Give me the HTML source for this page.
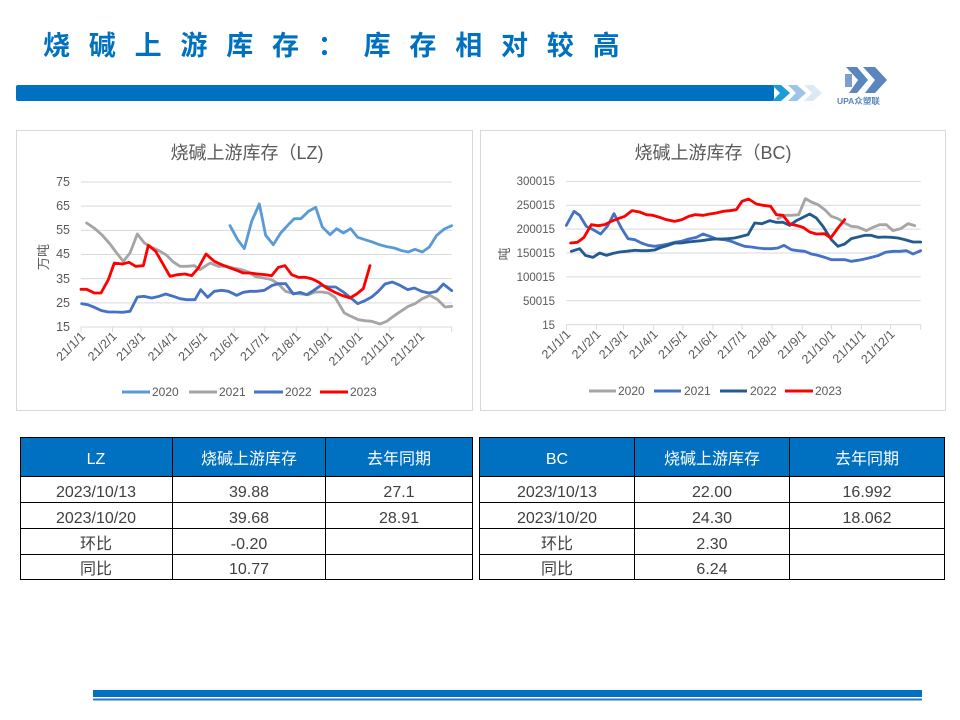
<!DOCTYPE html>
<html><head><meta charset="utf-8"><style>
html,body{margin:0;padding:0;background:#fff;}
svg{display:block;}
text{font-family:"Liberation Sans","Noto Sans CJK SC",sans-serif;}
</style></head><body>
<svg width="960" height="720" viewBox="0 0 960 720" xmlns="http://www.w3.org/2000/svg">
<rect width="960" height="720" fill="#fff"/>
<!-- Header -->
<text x="43" y="55" font-size="27" font-weight="bold" fill="#0070c0" letter-spacing="18.8">烧碱上游库存：库存相对较高</text>
<rect x="16" y="85" width="758" height="16" rx="2" fill="#0070c0"/>
<polygon points="772,85 781,85 790,93 781,101 772,101 780,93" fill="#1b9bd7"/>
<polygon points="788,85 797,85 806,93 797,101 788,101 796,93" fill="#9dc3e6"/>
<polygon points="804,85 813,85 822,93 813,101 804,101 812,93" fill="#dce9f5"/>
<!-- logo -->
<g fill="#5a86bd">
<polygon points="846,67 857,67 868,80 857,93 849,93 858,80"/>
<polygon points="863,67 875,67 887,80 875,93 865,93 875,80"/>
<polygon points="845,74 852,74 852,87 845,87" opacity="0.8"/>
</g>
<text x="837" y="104" font-size="8.5" font-weight="bold" fill="#5a86bd">UPA众塑联</text>

<!-- Chart 1 -->
<rect x="16.5" y="130.5" width="456" height="280" fill="#fff" stroke="#d9d9d9"/>
<text x="247" y="159" font-size="18" fill="#595959" text-anchor="middle">烧碱上游库存（LZ)</text>
<g transform="translate(15,128) scale(0.333333)" fill="none">
<g stroke="#d9d9d9" stroke-width="3">
<line x1="198" y1="162" x2="1310" y2="162"/>
<line x1="198" y1="234.5" x2="1310" y2="234.5"/>
<line x1="198" y1="307" x2="1310" y2="307"/>
<line x1="198" y1="379.5" x2="1310" y2="379.5"/>
<line x1="198" y1="452" x2="1310" y2="452"/>
<line x1="198" y1="524.5" x2="1310" y2="524.5"/>
<line x1="198" y1="597" x2="1310" y2="597"/>
<path d="M198,597v15M292.5,597v15M377.8,597v15M472.2,597v15M563.6,597v15M658,597v15M749.5,597v15M844,597v15M938.4,597v15M1029.8,597v15M1124.3,597v15M1215.7,597v15M1310,597v15"/>
</g>
<g stroke-width="8.5" stroke-linejoin="round" stroke-linecap="round">
<polyline stroke="#5b9bd5" points="645,293 668,335 688,362 710,280 733,228 752,322 775,350 797,315 820,290 838,272 858,272 880,250 902,238 922,297 945,320 965,302 985,315 1007,302 1028,328 1050,335 1072,342 1093,350 1115,356 1138,360 1160,368 1180,372 1200,364 1222,372 1243,357 1265,322 1288,303 1310,293"/>
<polyline stroke="#a5a5a5" points="215,285 240,302 262,322 285,348 305,375 325,400 345,375 367,318 388,345 410,358 432,368 455,382 475,402 495,415 515,415 538,413 555,425 585,405 610,415 635,415 655,420 680,425 700,432 720,445 745,450 770,455 790,468 812,490 830,495 850,497 880,500 900,492 920,492 940,495 960,508 988,555 1008,565 1030,575 1050,578 1070,580 1095,588 1115,580 1135,565 1160,548 1180,535 1200,527 1222,512 1245,502 1268,515 1290,537 1310,535"/>
<polyline stroke="#4472c4" points="200,527 218,530 238,538 260,548 280,552 300,552 322,553 345,550 367,507 388,505 410,510 432,505 452,498 475,505 495,512 515,515 540,515 557,485 578,508 598,490 620,487 640,490 665,502 685,493 705,490 725,490 748,487 770,473 790,467 812,467 835,498 855,493 875,500 895,488 918,472 942,477 962,477 985,492 1010,512 1028,527 1050,518 1070,507 1090,490 1110,468 1132,462 1155,472 1178,485 1198,480 1220,490 1242,495 1265,490 1285,468 1310,488"/>
<polyline stroke="#ff0000" points="198,484 215,484 238,495 258,495 280,455 298,405 322,408 342,403 362,415 385,413 400,352 422,370 445,410 465,445 488,440 510,438 530,443 550,420 573,378 598,400 620,410 640,418 665,427 685,435 705,435 728,438 750,440 770,443 790,418 810,413 830,440 850,448 872,448 892,453 912,463 935,480 958,492 980,502 1005,510 1025,498 1045,482 1065,413"/>
</g>
</g>
<g font-size="12.5" fill="#595959" text-anchor="end">
<text x="70" y="186">75</text>
<text x="70" y="210">65</text>
<text x="70" y="234">55</text>
<text x="70" y="258">45</text>
<text x="70" y="283">35</text>
<text x="70" y="307">25</text>
<text x="70" y="331">15</text>
</g>
<text transform="translate(48,257) rotate(-90)" font-size="13" fill="#595959" text-anchor="middle">万吨</text>
<g font-size="12.5" fill="#595959" text-anchor="end">
<text transform="translate(86,337) rotate(-45)">21/1/1</text>
<text transform="translate(117.5,337) rotate(-45)">21/2/1</text>
<text transform="translate(146,337) rotate(-45)">21/3/1</text>
<text transform="translate(177.4,337) rotate(-45)">21/4/1</text>
<text transform="translate(208,337) rotate(-45)">21/5/1</text>
<text transform="translate(239.3,337) rotate(-45)">21/6/1</text>
<text transform="translate(269.8,337) rotate(-45)">21/7/1</text>
<text transform="translate(301.3,337) rotate(-45)">21/8/1</text>
<text transform="translate(332.8,337) rotate(-45)">21/9/1</text>
<text transform="translate(363.3,337) rotate(-45)">21/10/1</text>
<text transform="translate(394.8,337) rotate(-45)">21/11/1</text>
<text transform="translate(425.2,337) rotate(-45)">21/12/1</text>
</g>
<g stroke-width="3">
<line x1="122" y1="392" x2="150" y2="392" stroke="#5b9bd5"/>
<line x1="189" y1="392" x2="217" y2="392" stroke="#a5a5a5"/>
<line x1="254" y1="392" x2="283" y2="392" stroke="#4472c4"/>
<line x1="320" y1="392" x2="348" y2="392" stroke="#ff0000"/>
</g>
<g font-size="12" fill="#595959">
<text x="152" y="396">2020</text>
<text x="219" y="396">2021</text>
<text x="285" y="396">2022</text>
<text x="350" y="396">2023</text>
</g>

<!-- Chart 2 -->
<rect x="480.5" y="130.5" width="465" height="280" fill="#fff" stroke="#d9d9d9"/>
<text x="713" y="159" font-size="18" fill="#595959" text-anchor="middle">烧碱上游库存（BC)</text>
<g transform="translate(478,128) scale(0.333333)" fill="none">
<g stroke="#d9d9d9" stroke-width="3">
<line x1="265" y1="160" x2="1328" y2="160"/>
<line x1="265" y1="231.7" x2="1328" y2="231.7"/>
<line x1="265" y1="303.3" x2="1328" y2="303.3"/>
<line x1="265" y1="375" x2="1328" y2="375"/>
<line x1="265" y1="446.7" x2="1328" y2="446.7"/>
<line x1="265" y1="518.3" x2="1328" y2="518.3"/>
<line x1="265" y1="590" x2="1328" y2="590"/>
<path d="M265,590v15M355.3,590v15M436.8,590v15M527.1,590v15M614.5,590v15M704.7,590v15M792.1,590v15M882.4,590v15M972.7,590v15M1060,590v15M1150.3,590v15M1237.7,590v15M1328,590v15"/>
</g>
<g stroke-width="8.5" stroke-linejoin="round" stroke-linecap="round">
<polyline stroke="#a5a5a5" points="900,272 920,262 940,262 962,260 982,212 1000,222 1020,230 1040,245 1060,265 1080,272 1100,285 1120,295 1140,297 1165,308 1185,298 1205,290 1225,290 1245,308 1268,302 1290,287 1310,293"/>
<polyline stroke="#4472c4" points="265,292 288,250 305,262 325,295 345,305 368,318 388,295 408,257 430,300 450,332 470,335 490,345 510,352 530,355 550,352 570,348 590,343 610,340 632,333 655,328 675,318 695,325 715,333 740,335 760,340 780,348 800,355 820,357 840,360 860,362 880,362 900,360 918,352 940,365 960,368 980,370 1000,378 1020,382 1040,388 1060,395 1080,395 1100,395 1120,400 1140,397 1160,393 1180,388 1200,383 1222,373 1245,370 1265,370 1285,368 1305,378 1328,368"/>
<polyline stroke="#245a8e" points="280,370 305,362 322,382 345,388 365,375 385,382 405,376 425,372 445,370 470,367 490,368 510,368 530,366 550,358 570,352 590,345 610,345 630,342 650,340 670,338 690,335 710,333 730,333 750,332 770,330 790,325 810,320 830,285 852,287 875,278 895,283 915,283 935,292 955,278 975,268 995,258 1015,270 1035,295 1060,335 1080,355 1100,348 1120,332 1140,327 1160,322 1180,322 1200,328 1220,327 1240,328 1260,330 1280,335 1305,342 1328,342"/>
<polyline stroke="#ff0000" points="278,345 298,343 318,328 340,290 360,293 380,290 400,280 420,272 440,265 462,248 485,252 505,260 525,262 545,268 565,275 590,280 612,275 632,265 652,260 675,262 695,258 715,255 735,250 755,248 775,245 792,220 812,213 835,228 855,232 878,235 895,260 915,262 935,288 955,292 975,298 995,312 1015,318 1040,317 1058,330 1080,300 1100,275"/>
</g>
</g>
<g font-size="11.5" fill="#595959" text-anchor="end">
<text x="555" y="185">300015</text>
<text x="555" y="209">250015</text>
<text x="555" y="233">200015</text>
<text x="555" y="257">150015</text>
<text x="555" y="281">100015</text>
<text x="555" y="305">50015</text>
<text x="555" y="329">15</text>
</g>
<text transform="translate(509,254) rotate(-90)" font-size="13" fill="#595959" text-anchor="middle">吨</text>
<g font-size="12.5" fill="#595959" text-anchor="end">
<text transform="translate(571.3,335) rotate(-45)">21/1/1</text>
<text transform="translate(601.4,335) rotate(-45)">21/2/1</text>
<text transform="translate(628.6,335) rotate(-45)">21/3/1</text>
<text transform="translate(658.7,335) rotate(-45)">21/4/1</text>
<text transform="translate(687.8,335) rotate(-45)">21/5/1</text>
<text transform="translate(717.9,335) rotate(-45)">21/6/1</text>
<text transform="translate(747,335) rotate(-45)">21/7/1</text>
<text transform="translate(777.1,335) rotate(-45)">21/8/1</text>
<text transform="translate(807.2,335) rotate(-45)">21/9/1</text>
<text transform="translate(836.3,335) rotate(-45)">21/10/1</text>
<text transform="translate(866.4,335) rotate(-45)">21/11/1</text>
<text transform="translate(895.6,335) rotate(-45)">21/12/1</text>
</g>
<g stroke-width="3">
<line x1="589" y1="391" x2="616" y2="391" stroke="#a5a5a5"/>
<line x1="654" y1="391" x2="681" y2="391" stroke="#4472c4"/>
<line x1="720" y1="391" x2="747" y2="391" stroke="#245a8e"/>
<line x1="785" y1="391" x2="813" y2="391" stroke="#ff0000"/>
</g>
<g font-size="12" fill="#595959">
<text x="618" y="395">2020</text>
<text x="684" y="395">2021</text>
<text x="750" y="395">2022</text>
<text x="815" y="395">2023</text>
</g>

<!-- Left table -->
<rect x="20.5" y="437.5" width="452" height="39" fill="#0070c0"/>
<g stroke="#000" stroke-width="1" fill="none">
<rect x="20.5" y="437.5" width="452" height="142"/>
<line x1="172.5" y1="437.5" x2="172.5" y2="579.5"/>
<line x1="325.5" y1="437.5" x2="325.5" y2="579.5"/>
<line x1="20.5" y1="476.5" x2="472.5" y2="476.5"/>
<line x1="20.5" y1="502.5" x2="472.5" y2="502.5"/>
<line x1="20.5" y1="528.5" x2="472.5" y2="528.5"/>
<line x1="20.5" y1="554.5" x2="472.5" y2="554.5"/>
</g>
<g font-size="16" fill="#fff" text-anchor="middle">
<text x="96" y="464">LZ</text>
<text x="249" y="464">烧碱上游库存</text>
<text x="399" y="464">去年同期</text>
</g>
<g font-size="16" fill="#404040" text-anchor="middle">
<text x="96" y="497">2023/10/13</text>
<text x="249" y="497">39.88</text>
<text x="399" y="497">27.1</text>
<text x="96" y="523">2023/10/20</text>
<text x="249" y="523">39.68</text>
<text x="399" y="523">28.91</text>
<text x="96" y="549">环比</text>
<text x="249" y="549">-0.20</text>
<text x="96" y="574">同比</text>
<text x="249" y="574">10.77</text>
</g>

<!-- Right table -->
<rect x="479.5" y="437.5" width="465" height="39" fill="#0070c0"/>
<g stroke="#000" stroke-width="1" fill="none">
<rect x="479.5" y="437.5" width="465" height="142"/>
<line x1="634.5" y1="437.5" x2="634.5" y2="579.5"/>
<line x1="789.5" y1="437.5" x2="789.5" y2="579.5"/>
<line x1="479.5" y1="476.5" x2="944.5" y2="476.5"/>
<line x1="479.5" y1="502.5" x2="944.5" y2="502.5"/>
<line x1="479.5" y1="528.5" x2="944.5" y2="528.5"/>
<line x1="479.5" y1="554.5" x2="944.5" y2="554.5"/>
</g>
<g font-size="16" fill="#fff" text-anchor="middle">
<text x="557" y="464">BC</text>
<text x="712" y="464">烧碱上游库存</text>
<text x="867" y="464">去年同期</text>
</g>
<g font-size="16" fill="#404040" text-anchor="middle">
<text x="557" y="497">2023/10/13</text>
<text x="712" y="497">22.00</text>
<text x="867" y="497">16.992</text>
<text x="557" y="523">2023/10/20</text>
<text x="712" y="523">24.30</text>
<text x="867" y="523">18.062</text>
<text x="557" y="549">环比</text>
<text x="712" y="549">2.30</text>
<text x="557" y="574">同比</text>
<text x="712" y="574">6.24</text>
</g>

<!-- Bottom bars -->
<rect x="93" y="690" width="829" height="7" fill="#0070c0"/>
<rect x="93" y="698.5" width="829" height="2" fill="#2e75b6"/>
</svg>
</body></html>
